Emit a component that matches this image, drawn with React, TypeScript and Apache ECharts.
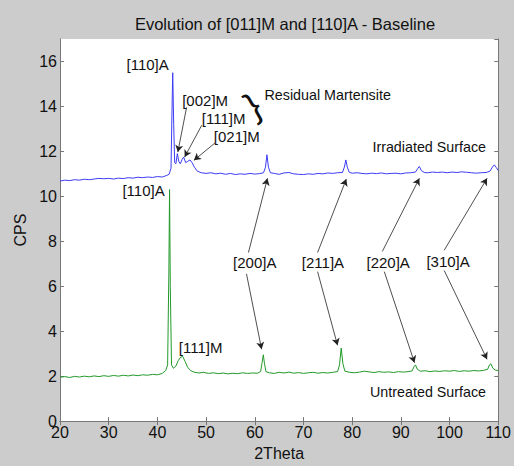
import React, { useEffect, useRef } from "react";
import * as echarts from "echarts";

const titleText = "Evolution of [011]M and [110]A - Baseline";
const xTicks = [20, 30, 40, 50, 60, 70, 80, 90, 100, 110];
const yTicks = [0, 2, 4, 6, 8, 10, 12, 14, 16];

const irradiatedPoints: [number, number][] = [
  [20, 10.68], [21, 10.72], [22, 10.7], [23, 10.74], [24, 10.72], [25, 10.76], [26, 10.74], [27, 10.77],
  [28, 10.8], [29, 10.78], [30, 10.8], [31, 10.77], [32, 10.81], [33, 10.79], [34, 10.83], [35, 10.81],
  [36, 10.85], [37, 10.83], [38, 10.86], [39, 10.84], [40, 10.88], [41, 10.86], [41.8, 10.92], [42.4, 10.98],
  [42.8, 11.25], [43.0, 13.8], [43.15, 15.5], [43.35, 13.2], [43.55, 11.5], [43.8, 11.45], [44.1, 11.9],
  [44.4, 11.55], [44.7, 11.45], [45.1, 11.65], [45.4, 11.75], [45.8, 11.5], [46.2, 11.55], [46.7, 11.62],
  [47.1, 11.5], [47.6, 11.3], [48.2, 11.12], [49, 11.05], [50, 11.02], [51, 11.05], [52, 11.0], [53, 11.03],
  [54, 10.98], [55, 11.02], [56, 10.97], [57, 11.0], [58, 10.98], [59, 11.02], [60, 10.99], [61, 11.01],
  [61.8, 11.05], [62.2, 11.3], [62.5, 11.85], [62.8, 11.3], [63.2, 11.05], [64, 11.02], [65, 10.98],
  [66, 11.04], [67, 11.06], [68, 11.0], [69, 10.98], [70, 10.97], [71, 11.0], [72, 10.98], [73, 11.02],
  [74, 11.0], [75, 11.04], [76, 11.02], [77, 11.05], [78, 11.06], [78.4, 11.3], [78.7, 11.62], [79.0, 11.3],
  [79.4, 11.07], [80, 11.03], [81, 11.05], [82, 11.02], [83, 11.0], [84, 11.03], [85, 11.01], [86, 11.04],
  [87, 11.0], [88, 11.02], [89, 11.03], [90, 11.0], [91, 11.04], [92, 11.05], [93, 11.08], [93.5, 11.25],
  [93.8, 11.33], [94.2, 11.15], [94.8, 11.06], [95.5, 11.05], [96.5, 11.08], [97.5, 11.06], [98.5, 11.08],
  [99.5, 11.05], [100.5, 11.08], [101.5, 11.06], [102.5, 11.09], [103.5, 11.07], [104.5, 11.05],
  [105.5, 11.03], [106.5, 11.05], [107.5, 11.06], [108.3, 11.12], [108.8, 11.3], [109.2, 11.4],
  [109.6, 11.28], [110, 11.15],
];

const untreatedPoints: [number, number][] = [
  [20, 1.95], [21, 1.98], [22, 1.94], [23, 1.99], [24, 1.96], [25, 2.0], [26, 1.97], [27, 2.01], [28, 1.98],
  [29, 2.02], [30, 1.99], [31, 2.03], [32, 2.0], [33, 2.04], [34, 2.01], [35, 2.05], [36, 2.02], [37, 2.06],
  [38, 2.04], [39, 2.08], [40, 2.06], [41, 2.12], [41.7, 2.25], [42.1, 2.5], [42.35, 6.5], [42.5, 10.3],
  [42.65, 6.0], [42.9, 2.5], [43.3, 2.35], [43.8, 2.45], [44.3, 2.7], [44.8, 2.85], [45.2, 2.88],
  [45.7, 2.65], [46.2, 2.4], [46.8, 2.25], [47.5, 2.18], [48.5, 2.14], [49.5, 2.17], [50.5, 2.12],
  [51.5, 2.15], [52.5, 2.11], [53.5, 2.14], [54.5, 2.1], [55.5, 2.13], [56.5, 2.11], [57.5, 2.15],
  [58.5, 2.12], [59.5, 2.14], [60.5, 2.13], [61.2, 2.2], [61.5, 2.6], [61.75, 2.95], [62.0, 2.55],
  [62.3, 2.2], [63, 2.15], [64, 2.12], [65, 2.17], [66, 2.14], [67, 2.18], [68, 2.13], [69, 2.16], [70, 2.12],
  [71, 2.15], [72, 2.17], [73, 2.13], [74, 2.16], [75, 2.14], [76, 2.17], [77, 2.2], [77.4, 2.5],
  [77.75, 3.25], [78.1, 2.55], [78.5, 2.22], [79.5, 2.17], [80.5, 2.15], [81.5, 2.18], [82.5, 2.22],
  [83.5, 2.19], [84.5, 2.16], [85.5, 2.2], [86.5, 2.17], [87.5, 2.19], [88.5, 2.16], [89.5, 2.2],
  [90.5, 2.18], [91.5, 2.2], [92.3, 2.23], [92.7, 2.42], [93.0, 2.5], [93.4, 2.3], [94, 2.22], [95, 2.24],
  [96, 2.2], [97, 2.23], [98, 2.21], [99, 2.24], [100, 2.22], [101, 2.25], [102, 2.21], [103, 2.24],
  [104, 2.22], [105, 2.25], [106, 2.23], [107, 2.26], [107.8, 2.3], [108.2, 2.5], [108.5, 2.55],
  [108.9, 2.35], [109.4, 2.27], [110, 2.25],
];

// annotation labels: [text, x, y, align]
const labelTexts: [string, number, number, string][] = [
  ["[110]A", 38.0, 15.87, "center"],
  ["[002]M", 49.8, 14.27, "center"],
  ["[111]M", 53.6, 13.47, "center"],
  ["[021]M", 56.3, 12.68, "center"],
  ["[110]A", 41.5, 10.24, "right"],
  ["[111]M", 44.4, 3.28, "left"],
  ["[200]A", 60.0, 7.05, "center"],
  ["[211]A", 74.0, 7.05, "center"],
  ["[220]A", 87.4, 7.05, "center"],
  ["[310]A", 99.7, 7.1, "center"],
  ["Irradiated Surface", 107.5, 12.19, "right"],
  ["Untreated Surface", 107.5, 1.29, "right"],
  ["Residual Martensite", 62.0, 14.5, "left"],
];

// arrows: [fromX, fromY, toX, toY]
const arrows: [number, number, number, number][] = [
  [46.0, 13.96, 44.2, 11.97],
  [49.1, 13.16, 45.6, 11.75],
  [51.8, 12.37, 47.5, 11.6],
  [58.7, 7.5, 62.6, 10.8],
  [58.3, 6.55, 61.4, 3.2],
  [72.9, 7.5, 78.8, 10.77],
  [72.9, 6.65, 77.0, 3.37],
  [86.2, 7.55, 93.8, 10.8],
  [86.6, 6.65, 92.8, 2.6],
  [98.9, 7.6, 107.7, 10.8],
  [98.9, 6.7, 107.7, 2.75],
];

const bracePos: [number, number] = [59.6, 14.05];

const FONT = "Liberation Sans, Arial, sans-serif";

export default function App() {
  const ref = useRef<HTMLDivElement>(null);
  useEffect(() => {
    document.body.style.margin = "0";
    document.body.style.background = "#cccccc";
    if (!ref.current) return;
    const chart = echarts.init(ref.current, null, { renderer: "svg" });
    const axisCommon = {
      type: "value" as const,
      axisLine: { show: true, lineStyle: { color: "#777777", width: 1 } },
      axisTick: { show: true, inside: true, length: 4, lineStyle: { color: "#777777" } },
      splitLine: { show: false },
    };
    const option: any = {
      animation: false,
      backgroundColor: "#cccccc",
      title: {
        text: titleText,
        left: 280,
        textAlign: "center",
        top: 10,
        textStyle: { fontFamily: FONT, fontSize: 16.5, fontWeight: "normal", color: "#111" },
      },
      grid: {
        left: 60,
        top: 39,
        right: 14,
        bottom: 44,
        show: true,
        backgroundColor: "#ffffff",
        borderWidth: 0,
      },
      xAxis: [
        {
          ...axisCommon,
          position: "bottom",
          min: xTicks[0],
          max: xTicks[xTicks.length - 1],
          interval: 10,
          name: "2Theta",
          nameLocation: "middle",
          nameGap: 22,
          nameTextStyle: { fontFamily: FONT, fontSize: 16, color: "#111" },
          axisLabel: { fontFamily: FONT, fontSize: 16, color: "#111", margin: 3 },
        },
        {
          ...axisCommon,
          position: "top",
          min: xTicks[0],
          max: xTicks[xTicks.length - 1],
          interval: 10,
          axisLabel: { show: false },
        },
      ],
      yAxis: [
        {
          ...axisCommon,
          position: "left",
          min: 0,
          max: 17,
          interval: 2,
          name: "CPS",
          nameLocation: "middle",
          nameGap: 31,
          nameTextStyle: { fontFamily: FONT, fontSize: 16, color: "#111" },
          axisLabel: {
            fontFamily: FONT,
            fontSize: 16,
            color: "#111",
            margin: 3,
            showMaxLabel: false,
            formatter: (v: number) => (yTicks.includes(v) ? String(v) : ""),
          },
        },
        {
          ...axisCommon,
          position: "right",
          min: 0,
          max: 17,
          interval: 2,
          axisLabel: { show: false },
        },
      ],
      series: [
        {
          name: "Irradiated Surface",
          type: "line",
          data: irradiatedPoints,
          showSymbol: false,
          symbol: "none",
          lineStyle: { color: "#3c3cf5", width: 1 },
          silent: true,
          z: 3,
          markLine: {
            silent: true,
            symbol: ["none", "arrow"],
            symbolSize: [6, 7],
            label: { show: false },
            lineStyle: { color: "#222222", width: 0.8, type: "solid" },
            data: arrows.map((a) => [{ coord: [a[0], a[1]] }, { coord: [a[2], a[3]] }]),
          },
          markPoint: {
            silent: true,
            symbol: "circle",
            symbolSize: 0,
            data: [
              ...labelTexts.map((t) => ({
                coord: [t[1], t[2]],
                label: {
                  show: true,
                  position: "inside",
                  formatter: t[0],
                  align: t[3],
                  verticalAlign: "middle",
                  fontFamily: FONT,
                  fontSize: t[0].length > 8 ? 14.3 : 15,
                  color: "#111",
                },
              })),
              {
                coord: bracePos,
                label: {
                  show: true,
                  position: "inside",
                  formatter: "}",
                  align: "center",
                  verticalAlign: "middle",
                  fontFamily: FONT,
                  fontSize: 36,
                  fontWeight: "normal",
                  rotate: 30,
                  color: "#111",
                },
              },
            ],
          },
        },
        {
          name: "Untreated Surface",
          type: "line",
          data: untreatedPoints,
          showSymbol: false,
          symbol: "none",
          lineStyle: { color: "#22992a", width: 1 },
          silent: true,
          z: 3,
        },
      ],
    };
    chart.setOption(option);
    return () => chart.dispose();
  }, []);
  return <div ref={ref} style={{ width: 514, height: 466, background: "#cccccc" }} />;
}
